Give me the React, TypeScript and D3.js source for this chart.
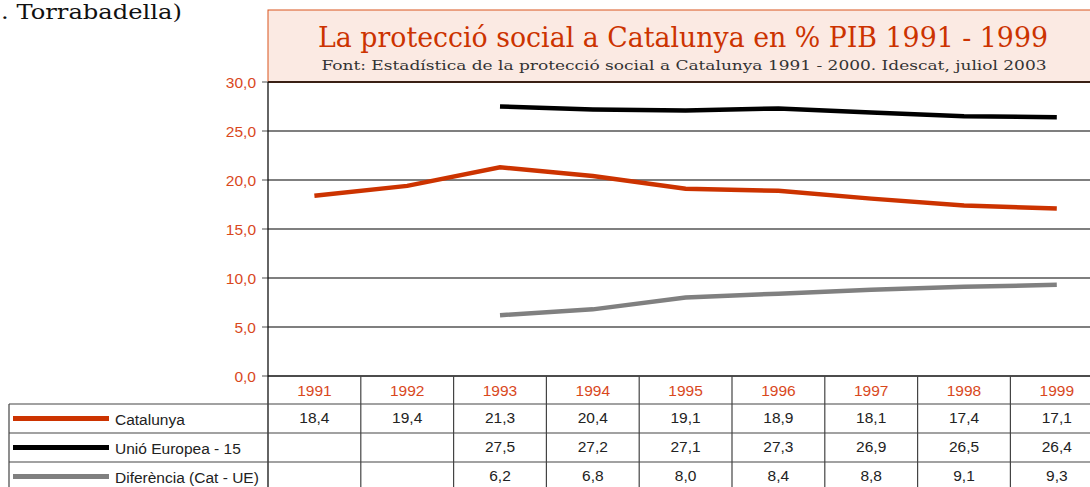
import * as d3 from "d3";

const years = ["1991", "1992", "1993", "1994", "1995", "1996", "1997", "1998", "1999"];
const catalunya = [18.4, 19.4, 21.3, 20.4, 19.1, 18.9, 18.1, 17.4, 17.1];
const unioEuropea = [null, null, 27.5, 27.2, 27.1, 27.3, 26.9, 26.5, 26.4];
const diferencia = [null, null, 6.2, 6.8, 8.0, 8.4, 8.8, 9.1, 9.3];
const yTicks = [0, 5, 10, 15, 20, 25, 30];

const seriesList = [
  { name: "Catalunya", values: catalunya, color: "#cc3300" },
  { name: "Unió Europea - 15", values: unioEuropea, color: "#000000" },
  { name: "Diferència (Cat - UE)", values: diferencia, color: "#808080" },
];

const W = 1090;
const H = 487;
const left = 268;
const bandW = 92.8;
const top30 = 82;
const bottom0 = 376;
const headerH = 28;
const rowH = 29;
const tableLeft = 9;
const sans = "Liberation Sans, Arial, sans-serif";

const fmt = (v: number) => v.toFixed(1).replace(".", ",");

export default function App() {
  const x = d3
    .scaleBand<string>()
    .domain(years)
    .range([left, left + bandW * years.length]);
  const y = d3.scaleLinear().domain([0, 30]).range([bottom0, top30]);

  const line = d3
    .line<number | null>()
    .defined((d) => d != null)
    .x((_, i) => x(years[i])! + x.bandwidth() / 2)
    .y((d) => y(d as number));

  const tableTop = bottom0 + headerH;
  const tableBottom = tableTop + rowH * seriesList.length;

  return (
    <svg
      width={W}
      height={H}
      style={{ position: "absolute", left: 0, top: 0, display: "block", background: "#fff" }}
    >
      {/* caption from the page, cut at the left edge */}
      <text
        x={1}
        y={19}
        fontFamily="DejaVu Serif, serif"
        fontSize={21}
        fill="#111"
        textLength={181}
        lengthAdjust="spacingAndGlyphs"
      >
        . Torrabadella)
      </text>

      {/* title box */}
      <rect x={left} y={10} width={W} height={top30 - 10} fill="#fbeae3" stroke="#d9541e" strokeWidth={1} />
      <text
        x={683}
        y={47}
        textAnchor="middle"
        fontFamily="DejaVu Serif Condensed, DejaVu Serif, serif"
        fontSize={27}
        fill="#cc3300"
        textLength={730}
        lengthAdjust="spacingAndGlyphs"
      >
        La protecció social a Catalunya en % PIB 1991 - 1999
      </text>
      <text
        x={684}
        y={70}
        textAnchor="middle"
        fontFamily="DejaVu Serif Condensed, DejaVu Serif, serif"
        fontSize={13.5}
        fill="#333"
        textLength={725}
        lengthAdjust="spacingAndGlyphs"
      >
        Font: Estadística de la protecció social a Catalunya 1991 - 2000. Idescat, juliol 2003
      </text>

      {/* gridlines and y axis */}
      {yTicks.map((t) => (
        <g key={t}>
          <line x1={left - 6} x2={left} y1={y(t)} y2={y(t)} stroke="#777" strokeWidth={1.3} />
          <line
            x1={left}
            x2={W}
            y1={y(t)}
            y2={y(t)}
            stroke={t === 30 ? "#3a2015" : t === 0 ? "#111" : "#555"}
            strokeWidth={t === 30 ? 2 : 1.3}
          />
          <text x={left - 12} y={y(t) + 5.5} textAnchor="end" fontFamily={sans} fontSize={15.5} fill="#d9481c">
            {fmt(t)}
          </text>
        </g>
      ))}
      <line x1={left} x2={left} y1={top30} y2={H} stroke="#111" strokeWidth={1.3} />

      {/* series lines */}
      {seriesList.map((s) => (
        <path key={s.name} d={line(s.values) ?? ""} fill="none" stroke={s.color} strokeWidth={4.5} />
      ))}

      {/* data table */}
      {years.map((yr, i) => (
        <g key={yr}>
          {i > 0 && <line x1={x(yr)!} x2={x(yr)!} y1={bottom0} y2={H} stroke="#444" strokeWidth={1.2} />}
          <text
            x={x(yr)! + x.bandwidth() / 2}
            y={bottom0 + 20}
            textAnchor="middle"
            fontFamily={sans}
            fontSize={15.5}
            fill="#d9481c"
          >
            {yr}
          </text>
        </g>
      ))}
      <line x1={tableLeft} x2={tableLeft} y1={tableTop} y2={tableBottom} stroke="#444" strokeWidth={1.2} />
      {seriesList.map((s, r) => {
        const rowTop = tableTop + r * rowH;
        const mid = rowTop + rowH / 2;
        return (
          <g key={s.name}>
            <line x1={tableLeft} x2={W} y1={rowTop} y2={rowTop} stroke="#444" strokeWidth={1.2} />
            <line x1={13} x2={109} y1={mid} y2={mid} stroke={s.color} strokeWidth={5} />
            <text x={115} y={mid + 6} fontFamily={sans} fontSize={15.5} fill="#222">
              {s.name}
            </text>
            {s.values.map((v, i) =>
              v == null ? null : (
                <text
                  key={i}
                  x={x(years[i])! + x.bandwidth() / 2}
                  y={mid + 4}
                  textAnchor="middle"
                  fontFamily={sans}
                  fontSize={15.5}
                  fill="#222"
                >
                  {fmt(v)}
                </text>
              )
            )}
          </g>
        );
      })}
      <line x1={tableLeft} x2={W} y1={tableBottom} y2={tableBottom} stroke="#444" strokeWidth={1.2} />
    </svg>
  );
}
